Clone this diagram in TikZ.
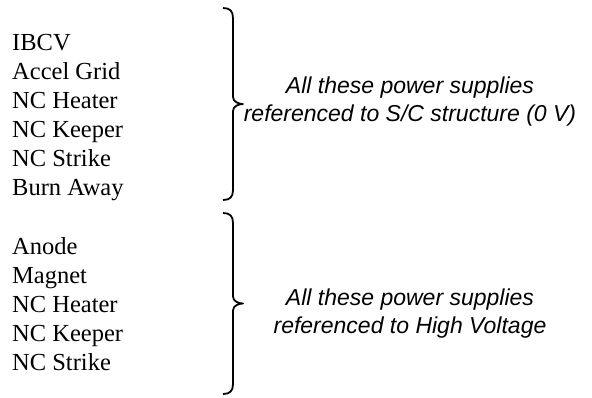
\documentclass[tikz,border=0pt]{standalone}
\usepackage{fontspec}
\newfontfamily\listfont{Liberation Serif}
\newfontfamily\notefont{Liberation Sans}
\usetikzlibrary{calc}

\begin{document}
\begin{tikzpicture}
  [x=1pt,y=-1pt,
   item/.style={anchor=base west,inner sep=0pt,font=\listfont\fontsize{24.5}{29}\selectfont},
   note/.style={align=center,font=\notefont\itshape\fontsize{23}{28}\selectfont},
   bracket/.style={line width=1.8pt,line join=round,
     to path={let \p1=(\tikztostart), \p2=(\tikztotarget), \p3=($(\p1)!.5!(\p2)$) in
       .. controls (\x1+7pt,\y1) and (\x1+10pt,\y1-3pt) .. (\x1+10pt,\y1-10pt)
       -- (\x1+10pt,\y3+7pt)
       .. controls (\x1+10pt,\y3+2pt) and (\x1+16pt,\y3) .. (\x1+20pt,\y3)
       .. controls (\x1+16pt,\y3) and (\x1+10pt,\y3-2pt) .. (\x1+10pt,\y3-7pt)
       -- (\x1+10pt,\y2+10pt)
       .. controls (\x1+10pt,\y2+3pt) and (\x1+7pt,\y2) .. (\tikztotarget)}}]
  \useasboundingbox (0,0) rectangle (592,397);
  % supplies referenced to S/C structure
  \node[item] (ibcv) at (12,50) {IBCV};
  \node[item] (accel) at (12,79) {Accel Grid};
  \node[item] (heaterA) at (12,108) {NC Heater};
  \node[item] (keeperA) at (12,137) {NC Keeper};
  \node[item] (strikeA) at (12,166) {NC Strike};
  \node[item] (burn) at (12,195) {Burn Away};
  % supplies referenced to high voltage
  \node[item] (anode) at (12,254) {Anode};
  \node[item] (magnet) at (12,283) {Magnet};
  \node[item] (heaterB) at (12,312) {NC Heater};
  \node[item] (keeperB) at (12,341) {NC Keeper};
  \node[item] (strikeB) at (12,370) {NC Strike};
  \coordinate (topA) at (223,8);
  \coordinate (botA) at (223,200);
  \coordinate (topB) at (223,213);
  \coordinate (botB) at (223,394);
  \draw[bracket] (topA) to (botA);
  \draw[bracket] (topB) to (botB);
  \node[note] (upper) at (410,102) {All these power supplies\\referenced to S/C structure (0 V)};
  \node[note] (lower) at (410,314) {All these power supplies\\referenced to High Voltage};
\end{tikzpicture}
\end{document}
